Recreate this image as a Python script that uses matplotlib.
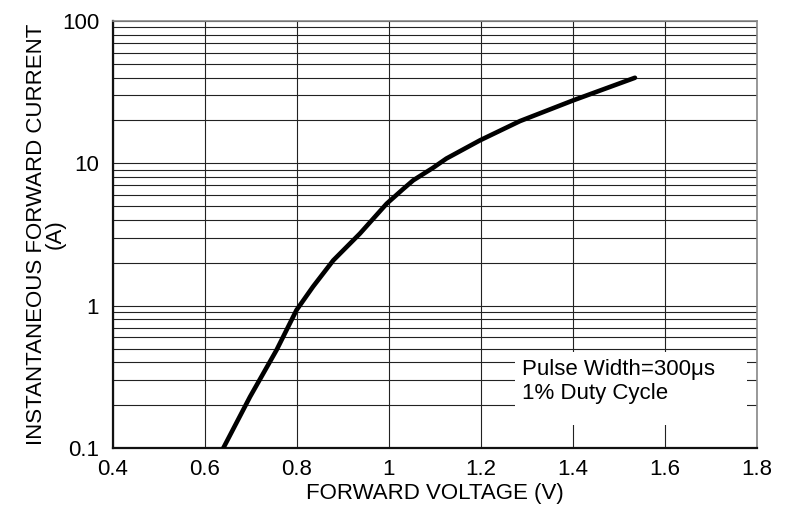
import numpy as np
import matplotlib.pyplot as plt
from matplotlib.patches import Rectangle
from matplotlib.ticker import FixedLocator, NullFormatter

# forward voltage (V) vs instantaneous forward current (A)
voltage = [0.640, 0.698, 0.756, 0.799, 0.835, 0.879, 0.937, 0.995, 1.031,
           1.053, 1.096, 1.125, 1.198, 1.285, 1.401, 1.535]
current = [0.10, 0.229, 0.49, 0.93, 1.36, 2.08, 3.21, 5.2, 6.6,
           7.6, 9.3, 10.8, 14.5, 19.8, 27.7, 39.9]

x_ticks = [0.4, 0.6, 0.8, 1.0, 1.2, 1.4, 1.6, 1.8]
x_labels = ['0.4', '0.6', '0.8', '1', '1.2', '1.4', '1.6', '1.8']
y_ticks = [0.1, 1, 10, 100]
y_labels = ['0.1', '1', '10', '100']

plt.rcParams['font.family'] = ['Liberation Sans', 'DejaVu Sans']
fs = 16

fig = plt.figure(figsize=(7.9, 5.24), dpi=100)
ax = fig.add_axes([0.143, 0.145, 0.815, 0.815])

ax.set_yscale('log')
ax.set_xlim(0.4, 1.8)
ax.set_ylim(0.1, 100)

ax.set_xticks(x_ticks)
ax.set_xticklabels(x_labels, fontsize=fs)
ax.set_yticks(y_ticks)
ax.set_yticklabels(y_labels, fontsize=fs)
minor = [m * 10.0 ** e for e in (-1, 0, 1) for m in range(2, 10)]
ax.yaxis.set_minor_locator(FixedLocator(minor))
ax.yaxis.set_minor_formatter(NullFormatter())
ax.tick_params(axis='x', which='both', length=0, pad=8)
ax.tick_params(axis='y', which='both', length=0, pad=10)

ax.grid(True, which='major', color='#222222', linewidth=0.8)
ax.grid(True, which='minor', axis='y', color='#222222', linewidth=0.8)
ax.set_axisbelow(True)

for side in ('left', 'bottom'):
    ax.spines[side].set_linewidth(1.6)
    ax.spines[side].set_color('#111111')
for side in ('top', 'right'):
    ax.spines[side].set_linewidth(1.2)
    ax.spines[side].set_color('#888888')

ax.plot(voltage, current, color='black', linewidth=3.3,
        solid_capstyle='round', zorder=3)

# white patch behind the note, hides the grid there
ax.add_patch(Rectangle((0.624, 0.054), 0.36, 0.172, transform=ax.transAxes,
                       facecolor='white', edgecolor='none', zorder=2))
ax.text(0.635, 0.208, 'Pulse Width=300μs\n1% Duty Cycle', fontsize=fs,
        transform=ax.transAxes, va='top', ha='left', linespacing=1.2,
        zorder=4)

ax.set_xlabel('FORWARD VOLTAGE (V)', fontsize=fs, labelpad=2)
ax.set_ylabel('INSTANTANEOUS FORWARD CURRENT\n(A)', fontsize=fs,
              labelpad=-3, linespacing=0.85)

fig.savefig('out.png', dpi=100)
